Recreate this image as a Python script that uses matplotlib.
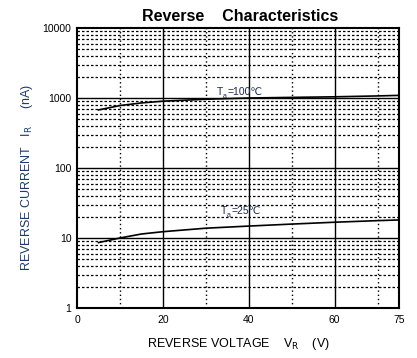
import numpy as np
import matplotlib
matplotlib.use('Agg')
import matplotlib.pyplot as plt
from matplotlib.ticker import FixedLocator, NullFormatter, LogLocator

plt.rcParams['font.family'] = ['Liberation Sans', 'DejaVu Sans']

# reverse voltage (V) and reverse current (nA)
v_100 = [5, 10, 15, 20, 30, 40, 50, 60, 70, 75]
ir_100 = [675, 780, 850, 900, 960, 1000, 1020, 1040, 1070, 1090]
v_25 = [5, 10, 15, 20, 30, 40, 50, 60, 70, 75]
ir_25 = [8.6, 10.0, 11.4, 12.3, 13.8, 14.8, 15.8, 16.8, 17.7, 18.1]

x_ticks = [0, 20, 40, 60, 75]
y_ticks = [1, 10, 100, 1000, 10000]
y_tick_labels = ['1', '10', '100', '1000', '10000']

fig = plt.figure(figsize=(4.17, 3.58), dpi=100)
ax = fig.add_axes([0.1847, 0.1397, 0.7723, 0.7821])

ax.set_yscale('log')
ax.set_xlim(0, 75)
ax.set_ylim(1, 10000)

ax.plot(v_100, ir_100, color='black', lw=1.2)
ax.plot(v_25, ir_25, color='black', lw=1.2)

# grid: solid major, dotted minor
for v in [20, 40, 60]:
    ax.axvline(v, color='black', lw=1.0)
for v in [10, 30, 50, 70]:
    ax.axvline(v, color='black', lw=1.0, ls=(0, (1, 2)))
for d in [10, 100, 1000]:
    ax.axhline(d, color='black', lw=1.0)
for d in [1, 10, 100, 1000]:
    for m in range(2, 10):
        ax.axhline(d * m, color='black', lw=0.9, ls=(0, (2, 1.6)))

ax.xaxis.set_major_locator(FixedLocator(x_ticks))
ax.set_xticklabels([str(t) for t in x_ticks])
ax.yaxis.set_major_locator(FixedLocator(y_ticks))
ax.set_yticklabels(y_tick_labels)
ax.yaxis.set_minor_locator(LogLocator(base=10, subs=range(2, 10)))
ax.yaxis.set_minor_formatter(NullFormatter())
ax.tick_params(which='both', length=0, labelsize=7.5)
ax.tick_params(axis='x', pad=5)
ax.tick_params(axis='y', pad=4)
for s in ax.spines.values():
    s.set_linewidth(1.5)


def temp_label(x, y, txt):
    ax.text(x, y, 'T', fontsize=7.5, color='#1a2a50', va='baseline')
    ax.annotate('a', (x, y), xytext=(4.5, -2.5), textcoords='offset points',
                fontsize=5, color='#1a2a50', va='baseline')
    ax.annotate(txt, (x, y), xytext=(8, 0), textcoords='offset points',
                fontsize=7.5, color='#1a2a50', va='baseline',
                family=['Liberation Sans', 'DejaVu Sans'])


temp_label(32.5, 1120, '=100℃')
temp_label(33.5, 22, '=25℃')

fig.text(0.575, 0.955, 'Reverse    Characteristics', ha='center', va='center',
         fontsize=11.5, fontweight='bold')
fig.text(0.571, 0.04, r'REVERSE VOLTAGE    V$_{\mathrm{R}}$    (V)', ha='center',
         va='center', fontsize=9)
fig.text(0.065, 0.505, r'REVERSE CURRENT   I$_{\mathrm{R}}$     (nA)', ha='center',
         va='center', rotation=90, fontsize=9, color='#1a3a6e')

fig.savefig('out.png', dpi=100)
